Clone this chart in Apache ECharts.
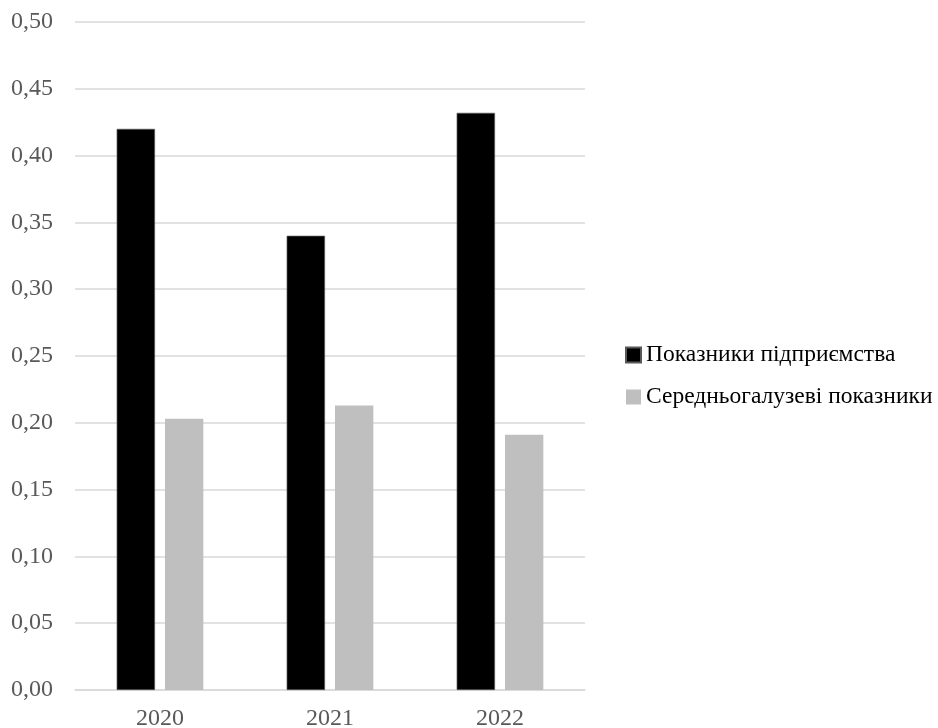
<!DOCTYPE html>
<html>
<head>
<meta charset="utf-8">
<script src="https://cdn.jsdelivr.net/npm/echarts@6/dist/echarts.min.js"></script>
<style>html,body{margin:0;padding:0;background:#fff;}#chart{width:938px;height:728px;}</style>
</head>
<body>
<div id="chart"></div>
<script>
var categories = ['2020', '2021', '2022'];
var seriesNames = ['Показники підприємства', 'Середньогалузеві показники'];
var enterpriseValues = [0.420, 0.340, 0.432];
var industryValues = [0.203, 0.213, 0.191];

var chart = echarts.init(document.getElementById('chart'));
var font = '"Liberation Serif", "Times New Roman", serif';
chart.setOption({
  animation: false,
  textStyle: { fontFamily: font },
  grid: { left: 75, right: 353, top: 22, bottom: 38, containLabel: false, outerBoundsMode: 'none' },
  legend: {
    orient: 'vertical',
    left: 625,
    top: 343,
    padding: 0,
    icon: 'rect',
    itemWidth: 15,
    itemHeight: 15,
    itemGap: 18,
    textStyle: { fontFamily: font, fontSize: 23.5, color: '#000' },
    data: seriesNames
  },
  xAxis: {
    type: 'category',
    data: categories,
    axisLine: { lineStyle: { color: '#d9d9d9', width: 1.5 } },
    axisTick: { show: false },
    axisLabel: { fontFamily: font, fontSize: 24, color: '#595959', margin: 17 }
  },
  yAxis: {
    type: 'value',
    min: 0,
    max: 0.5,
    interval: 0.05,
    axisLine: { show: false },
    axisTick: { show: false },
    splitLine: { lineStyle: { color: '#d9d9d9', width: 1.5 } },
    axisLabel: {
      fontFamily: font, fontSize: 24, color: '#595959', margin: 22,
      formatter: function (v) { return v.toFixed(2).replace('.', ','); }
    }
  },
  series: [
    {
      name: seriesNames[0], type: 'bar', data: enterpriseValues,
      barGap: '26%', barCategoryGap: '49%',
      itemStyle: { color: '#000', borderColor: '#595959', borderWidth: 0.7 }
    },
    {
      name: seriesNames[1], type: 'bar', data: industryValues,
      itemStyle: { color: '#bfbfbf' }
    }
  ]
});
</script>
</body>
</html>
